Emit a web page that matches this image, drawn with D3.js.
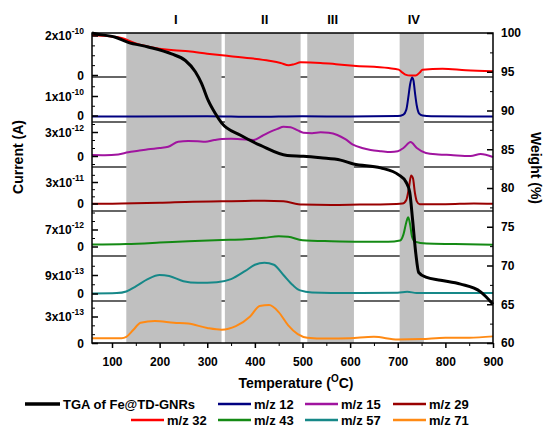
<!DOCTYPE html>
<html>
<head>
<meta charset="utf-8">
<script src="https://cdn.jsdelivr.net/npm/d3@7"></script>
<style>
  body { margin: 0; background: #fff; }
  svg text { font-family: "Liberation Sans", Arial, sans-serif; font-weight: bold; fill: #000; }
</style>
</head>
<body>
<div id="vis"></div>
<script>
// ---- data ----
const regionNames = ['I', 'II', 'III', 'IV'];
const regionStart = [130, 337, 510, 704];
const regionEnd = [330, 496, 608, 755];

const tgaT = [58, 65, 107, 134, 176, 225, 254, 275, 288, 302, 317, 330, 370, 412, 468, 502, 538, 580, 607, 664, 702, 717, 725, 731, 738, 744, 759, 790, 832, 874, 900];
const tgaW = [100, 99.9, 99.45, 98.8, 98.2, 97.3, 96.45, 95.0, 93.5, 91.3, 89.6, 88.4, 86.8, 85.5, 84.2, 84.1, 83.9, 83.6, 83.1, 82.6, 81.7, 80.8, 79.5, 76, 71.5, 69.1, 68.5, 68.1, 67.6, 66.6, 65.0];

const mz32T = [58, 90, 120, 150, 191, 230, 260, 300, 345, 397, 430, 454, 471, 483, 496, 538, 570, 607, 681, 702, 710, 716, 727, 738, 746, 752, 794, 843, 900];
const mz32V = [2.01, 1.97, 1.87, 1.6, 1.37, 1.25, 1.2, 1.08, 0.96, 0.83, 0.72, 0.61, 0.49, 0.55, 0.64, 0.61, 0.55, 0.47, 0.35, 0.27, 0.12, 0.02, -0.03, -0.02, 0.12, 0.27, 0.32, 0.24, 0.19];

const mz12T = [58, 150, 300, 400, 500, 600, 700, 712, 718, 722, 726, 730, 733, 736, 740, 745, 752, 770, 850, 900];
const mz12V = [-0.05, -0.05, -0.04, -0.07, -0.04, -0.05, -0.03, 0.05, 0.3, 0.9, 1.6, 1.95, 1.8, 1.2, 0.5, 0.1, 0.0, -0.04, -0.05, -0.05];

const mz15T = [58, 85, 113, 134, 155, 176, 200, 218, 239, 260, 280, 296, 315, 330, 350, 370, 397, 415, 433, 448, 460, 475, 490, 502, 520, 538, 555, 573, 590, 607, 625, 643, 665, 685, 700, 712, 727, 740, 759, 785, 811, 853, 874, 900];
const mz15V = [0.12, 0.1, 0.2, 0.46, 0.65, 0.84, 1.0, 1.16, 1.79, 1.88, 1.85, 1.79, 2.0, 2.13, 2.15, 2.09, 2.0, 2.5, 3.04, 3.4, 3.66, 3.59, 3.2, 2.91, 2.85, 2.96, 2.9, 2.63, 2.1, 1.38, 1.0, 0.75, 0.6, 0.5, 0.6, 1.0, 1.75, 1.0, 0.38, 0.2, 0.12, 0.0, 0.25, -0.12];

const mz29T = [58, 120, 200, 270, 330, 380, 420, 460, 500, 560, 620, 680, 710, 718, 723, 728, 732, 736, 740, 746, 800, 860, 900];
const mz29V = [-0.05, 0, 0.1, 0.25, 0.3, 0.35, 0.4, 0.3, -0.15, -0.2, -0.15, -0.1, 0, 0.5, 2.0, 3.9, 3.5, 1.5, 0.3, -0.1, -0.1, 0, -0.05];

const mz43T = [58, 130, 200, 260, 330, 380, 420, 450, 470, 500, 560, 620, 680, 705, 712, 718, 722, 726, 730, 736, 760, 820, 900];
const mz43V = [0.8, 1.0, 1.6, 2.2, 2.7, 3.0, 3.6, 4.2, 4.0, 2.6, 2.2, 2.0, 2.0, 2.5, 5, 10, 12, 9, 4, 2, 1.2, 1.0, 0.7];

const mz57T = [58, 110, 130, 150, 175, 200, 220, 250, 280, 320, 350, 380, 400, 420, 440, 460, 480, 495, 520, 560, 620, 700, 720, 740, 800, 900];
const mz57V = [0, 0.2, 1, 3.5, 7, 9, 8.5, 6, 5.2, 5.5, 7, 11, 14, 15, 14, 9, 4, 1.5, 0.5, 0.3, 0.3, 0.4, 0.8, 0.3, 0.3, 0.3];

const mz71T = [58, 120, 130, 145, 160, 190, 230, 260, 300, 330, 360, 390, 410, 430, 450, 470, 490, 510, 550, 600, 650, 700, 750, 800, 850, 900];
const mz71V = [0.55, 0.55, 0.7, 1.5, 2.3, 2.5, 2.3, 2.2, 1.7, 1.5, 1.9, 3.0, 4.2, 4.3, 3.5, 2.0, 1.0, 0.6, 0.5, 0.55, 0.7, 0.4, 0.45, 0.6, 0.6, 0.75];

// panels top to bottom
const panelNames = ['m/z 32', 'm/z 12', 'm/z 15', 'm/z 29', 'm/z 43', 'm/z 57', 'm/z 71'];
const panelT = [mz32T, mz12T, mz15T, mz29T, mz43T, mz57T, mz71T];
const panelV = [mz32V, mz12V, mz15V, mz29V, mz43V, mz57V, mz71V];
const panelTickValue = [2, 1, 3, 3, 7, 9, 3];
const panelTickExp = ['-10', '-10', '-12', '-11', '-12', '-13', '-13'];

const xTicks = [100, 200, 300, 400, 500, 600, 700, 800, 900];
const wTicks = [60, 65, 70, 75, 80, 85, 90, 95, 100];

// ---- layout ----
const plot = {left: 92, right: 493, top: 33, bottom: 343};
const panelEdges = [33, 77, 122, 167, 211, 256, 301, 343];
const panelZeroY = [75, 115.5, 156, 203.5, 246.5, 293.5, 343];
const panelTickY = [35.5, 96, 132, 182, 229.5, 275, 316.5];
const panelMinorStep = [0.5, 0.5, 1, 1, 3.5, 4.5, 1];
const panelColors = ['#ff0000', '#000080', '#a0149f', '#990000', '#148a14', '#168888', '#ff8a14'];

const svg = d3.select('#vis').append('svg')
    .attr('width', 543)
    .attr('height', 429);

const x = d3.scaleLinear()
    .domain([58, 900])
    .range([plot.left, plot.right]);

const yW = d3.scaleLinear()
    .domain([60, 100])
    .range([plot.bottom, plot.top]);

const panelScales = panelTickValue.map((v, i) => d3.scaleLinear()
    .domain([0, v])
    .range([panelZeroY[i], panelTickY[i]]));

// separator lines (under the shading)
svg.append('g')
  .selectAll('line')
  .data(panelEdges.slice(1, -1))
  .join('line')
    .attr('x1', plot.left)
    .attr('x2', plot.right)
    .attr('y1', d => d)
    .attr('y2', d => d)
    .attr('stroke', '#333')
    .attr('stroke-width', 1.5);

// shaded regions
svg.append('g')
  .selectAll('rect')
  .data(regionNames)
  .join('rect')
    .attr('x', (d, i) => x(regionStart[i]))
    .attr('width', (d, i) => x(regionEnd[i]) - x(regionStart[i]))
    .attr('y', plot.top)
    .attr('height', plot.bottom - plot.top)
    .attr('fill', '#c0c0c0');

svg.append('g')
  .selectAll('text')
  .data(regionNames)
  .join('text')
    .attr('x', (d, i) => x((regionStart[i] + regionEnd[i]) / 2) + 2)
    .attr('y', 24)
    .attr('text-anchor', 'middle')
    .style('font-size', '13px')
    .text(d => d);

// m/z traces
panelNames.forEach((name, i) => {
  const line = d3.line()
      .x((d, j) => x(panelT[i][j]))
      .y(d => panelScales[i](d))
      .curve(d3.curveMonotoneX);

  svg.append('path')
      .datum(panelV[i])
      .attr('d', line)
      .attr('fill', 'none')
      .attr('stroke', panelColors[i])
      .attr('stroke-width', 2);
});

// TGA curve
const tgaLine = d3.line()
    .x((d, j) => x(tgaT[j]))
    .y(d => yW(d))
    .curve(d3.curveMonotoneX);

svg.append('path')
    .datum(tgaW)
    .attr('d', tgaLine)
    .attr('fill', 'none')
    .attr('stroke', '#000')
    .attr('stroke-width', 3);

// frame
svg.append('path')
    .attr('d', `M${plot.left},${plot.bottom}V${plot.top}H${plot.right}V${plot.bottom}Z`)
    .attr('fill', 'none')
    .attr('stroke', '#000')
    .attr('stroke-width', 1.5);

// left axis, one block per panel
panelNames.forEach((name, i) => {
  const s = panelScales[i];
  const step = panelMinorStep[i];
  const lo = s.invert(panelEdges[i + 1]);
  const hi = s.invert(panelEdges[i]);
  const minor = d3.range(Math.ceil(lo / step) * step, hi, step)
      .filter(v => Math.abs(v) > 1e-6 && Math.abs(v - panelTickValue[i]) > 1e-6)
      .filter(v => s(v) > panelEdges[i] + 1 && s(v) < panelEdges[i + 1] - 1);

  svg.append('g')
      .attr('transform', `translate(${plot.left},0)`)
      .call(d3.axisLeft(s).tickValues(minor).tickSize(-3).tickFormat(''))
      .call(g => g.select('.domain').remove());

  svg.append('g')
      .attr('transform', `translate(${plot.left},0)`)
      .call(d3.axisLeft(s).tickValues([0, panelTickValue[i]]).tickSize(-6).tickFormat(''))
      .call(g => g.select('.domain').remove())
      .call(g => g.selectAll('line').attr('stroke-width', 1.5));

  svg.append('text')
      .attr('x', 84)
      .attr('y', s(0) + 4.5)
      .attr('text-anchor', 'end')
      .style('font-size', '12px')
      .text('0');

  const lab = svg.append('text')
      .attr('x', 84)
      .attr('y', s(panelTickValue[i]) + 4.5)
      .attr('text-anchor', 'end')
      .style('font-size', '12px');
  lab.append('tspan').text(panelTickValue[i] + 'x10');
  lab.append('tspan')
      .attr('dy', -6)
      .style('font-size', '8.5px')
      .text(panelTickExp[i]);
});

// right axis (weight)
svg.append('g')
    .attr('transform', `translate(${plot.right},0)`)
    .call(d3.axisRight(yW).tickValues(wTicks.slice(0, -1).map(d => d + 2.5)).tickSize(-3).tickFormat(''))
    .call(g => g.select('.domain').remove());

svg.append('g')
    .attr('transform', `translate(${plot.right},0)`)
    .call(d3.axisRight(yW).tickValues(wTicks).tickSizeInner(-6).tickSizeOuter(0).tickPadding(8))
    .call(g => g.select('.domain').remove())
    .call(g => g.selectAll('line').attr('stroke-width', 1.5))
    .call(g => g.selectAll('text')
        .style('font-size', '12px')
        .style('font-family', '"Liberation Sans", Arial, sans-serif')
        .style('font-weight', 'bold'));

// bottom axis
svg.append('g')
    .attr('transform', `translate(0,${plot.bottom})`)
    .call(d3.axisBottom(x).tickValues(xTicks.slice(0, -1).map(d => d + 50)).tickSize(3).tickFormat(''))
    .call(g => g.select('.domain').remove());

svg.append('g')
    .attr('transform', `translate(0,${plot.bottom})`)
    .call(d3.axisBottom(x).tickValues(xTicks).tickSizeInner(5).tickSizeOuter(0).tickPadding(9))
    .call(g => g.select('.domain').remove())
    .call(g => g.selectAll('line').attr('stroke-width', 1.5))
    .call(g => g.selectAll('text')
        .style('font-size', '12px')
        .style('font-family', '"Liberation Sans", Arial, sans-serif')
        .style('font-weight', 'bold'));

// axis titles
const xTitle = svg.append('text')
    .attr('x', 296)
    .attr('y', 388)
    .attr('text-anchor', 'middle')
    .style('font-size', '14px');
xTitle.append('tspan').text('Temperature (');
xTitle.append('tspan').attr('dy', -6).style('font-size', '10px').text('O');
xTitle.append('tspan').attr('dy', 6).text('C)');

svg.append('text')
    .attr('transform', 'translate(23,157) rotate(-90)')
    .attr('text-anchor', 'middle')
    .style('font-size', '14px')
    .text('Current (A)');

svg.append('text')
    .attr('transform', 'translate(531,168) rotate(90)')
    .attr('text-anchor', 'middle')
    .style('font-size', '14px')
    .text('Weight (%)');

// legend
const legendNames = ['TGA of Fe@TD-GNRs', 'm/z 12', 'm/z 15', 'm/z 29', 'm/z 32', 'm/z 43', 'm/z 57', 'm/z 71'];
const legendColors = ['#000', panelColors[1], panelColors[2], panelColors[3], panelColors[0], panelColors[4], panelColors[5], panelColors[6]];
const legendX = [25, 218, 305, 393, 131, 218, 305, 393];

const legend = svg.append('g')
  .selectAll('g')
  .data(legendNames)
  .join('g')
    .attr('transform', (d, i) => `translate(${legendX[i]},${i < 4 ? 404 : 420})`);

legend.append('line')
    .attr('x1', 0)
    .attr('x2', (d, i) => i === 0 ? 35 : 33)
    .attr('stroke', (d, i) => legendColors[i])
    .attr('stroke-width', (d, i) => i === 0 ? 3.5 : 2.5);

legend.append('text')
    .attr('x', (d, i) => i === 0 ? 38 : 36)
    .attr('y', 4.5)
    .style('font-size', '13px')
    .text(d => d);
</script>
</body>
</html>
